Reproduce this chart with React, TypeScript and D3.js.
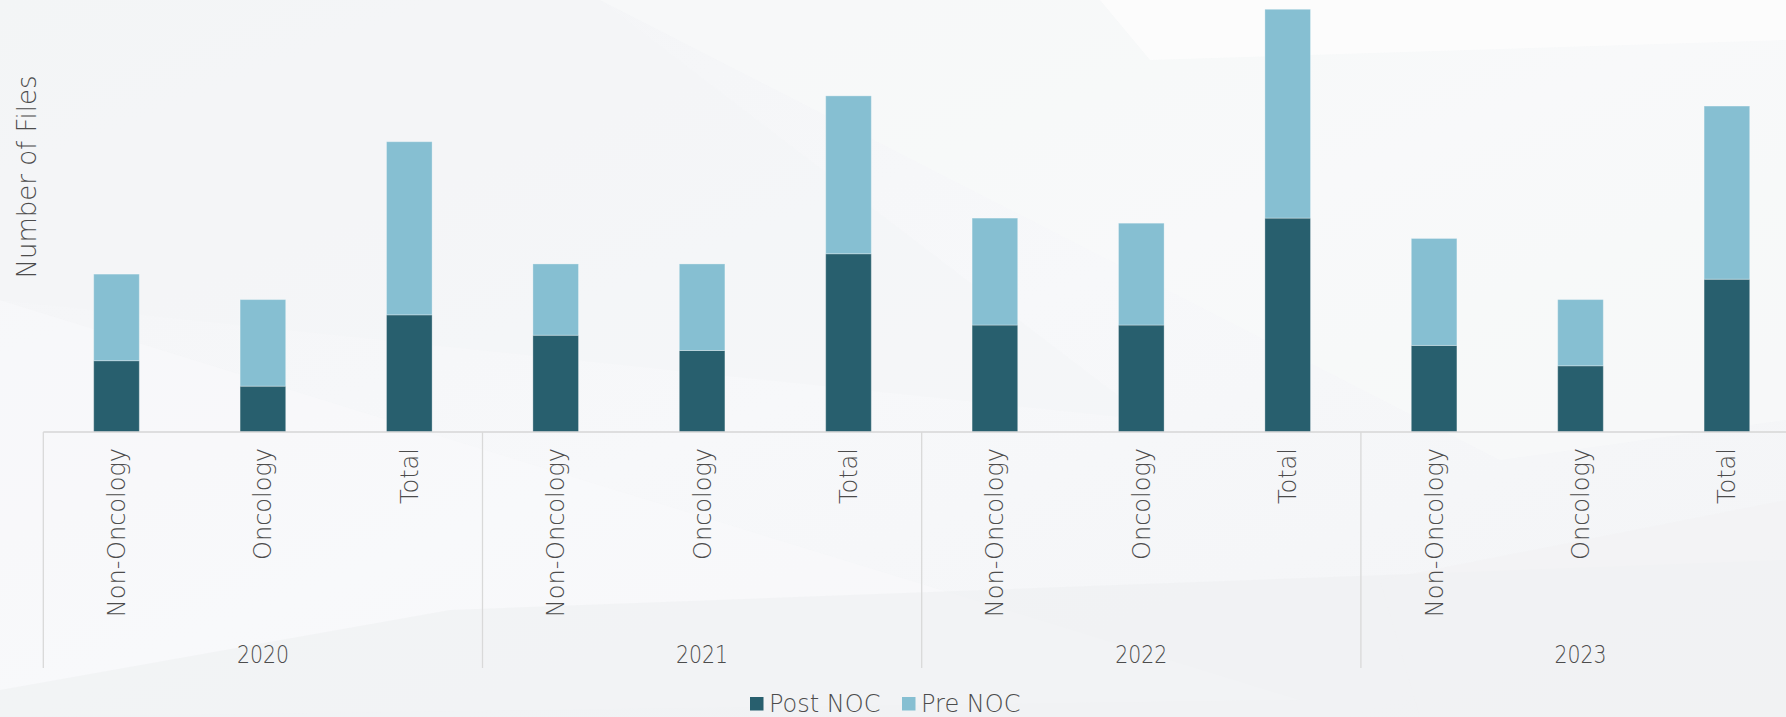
import React from "react";
import * as d3 from "d3";

const years = ["2020", "2021", "2022", "2023"];
const categories = ["Non-Oncology", "Oncology", "Total"];
const postNOC = [14, 9, 23, 19, 16, 35, 21, 21, 42, 17, 13, 30];
const preNOC = [17, 17, 34, 14, 17, 31, 21, 20, 41, 21, 13, 34];
const seriesNames = ["Post NOC", "Pre NOC"];
const seriesColors = ["#285F6E", "#86BFD2"];

const W = 1786;
const H = 717;
const FONT = "'DejaVu Sans', 'Open Sans', sans-serif";
const TEXT = "#4c4c4c";
const WEIGHT = 300;

export default function App() {
  const keys = years.flatMap((y) => categories.map((c) => `${y}|${c}`));
  const rows = keys.map((k, i) => ({ key: k, post: postNOC[i], pre: preNOC[i] }));
  const stack = d3.stack<any>().keys(["post", "pre"])(rows);

  const left = 43.3;
  const step = 146.4;
  const x = d3
    .scaleBand<string>()
    .domain(keys)
    .range([left, left + step * keys.length])
    .paddingInner(0.6885)
    .paddingOuter(0.6885 / 2);
  const xYear = d3
    .scaleBand<string>()
    .domain(years)
    .range([left, left + step * keys.length]);
  const y = d3.scaleLinear().domain([0, 85]).range([432, -0.9]);
  const base = y(0);

  return (
    <div style={{ position: "fixed", left: 0, top: 0, width: W, height: H, overflow: "hidden" }}>
      <svg width={W} height={H} style={{ display: "block" }}>
        <defs>
          <linearGradient id="bg" x1="0" y1="0" x2="1" y2="1">
            <stop offset="0" stopColor="#f3f4f6" />
            <stop offset="0.5" stopColor="#f7f8fa" />
            <stop offset="1" stopColor="#f3f4f6" />
          </linearGradient>
        </defs>
        <rect x={0} y={0} width={W} height={H} fill="url(#bg)" />
        {/* faint background facets */}
        <polygon points="600,0 1786,0 1786,420 1500,460" fill="#f8f9fa" opacity={0.7} />
        <polygon points="0,0 600,0 1150,420 0,300" fill="#f4f5f7" opacity={0.6} />
        <polygon points="0,300 420,430 1300,700 0,717" fill="#f9fafb" opacity={0.5} />
        <polygon points="0,690 450,610 1786,560 1786,717 0,717" fill="#eff0f2" opacity={0.6} />
        <polygon points="1100,0 1786,0 1786,40 1150,60" fill="#fcfcfd" opacity={0.8} />
        <polygon points="1380,580 1786,500 1786,717 1420,717" fill="#f1f2f4" opacity={0.6} />

        {/* y axis title */}
        <text
          transform={`translate(36,177) rotate(-90)`}
          textAnchor="middle"
          fontFamily={FONT}
          fontSize={26}
          fontWeight={WEIGHT}
          fill={TEXT}
        >
          Number of Files
        </text>

        {/* bars */}
        {stack.map((layer, si) => (
          <g key={si} fill={seriesColors[si]}>
            {layer.map((d: any) => (
              <rect
                key={d.data.key}
                x={x(d.data.key)}
                width={x.bandwidth()}
                y={y(d[1])}
                height={y(d[0]) - y(d[1])}
                stroke="rgba(255,255,255,0.3)"
                strokeWidth={1}
              />
            ))}
          </g>
        ))}

        {/* axis line */}
        <line x1={left} x2={W} y1={base} y2={base} stroke="#d6d6d6" strokeWidth={1.5} />
        {years.map((yr) => (
          <line
            key={yr}
            x1={xYear(yr)}
            x2={xYear(yr)}
            y1={base}
            y2={668}
            stroke="#d9d9d9"
            strokeWidth={1.3}
          />
        ))}

        {/* category labels */}
        {keys.map((k) => {
          const cx = (x(k) as number) + x.bandwidth() / 2;
          return (
            <text
              key={k}
              transform={`translate(${cx},${base + 16}) rotate(-90)`}
              textAnchor="end"
              dy="0.35em"
              fontFamily={FONT}
              fontSize={24}
              fontWeight={WEIGHT}
              fill={TEXT}
            >
              {k.split("|")[1]}
            </text>
          );
        })}

        {/* year labels */}
        {years.map((yr) => (
          <text
            key={yr}
            x={(xYear(yr) as number) + xYear.bandwidth() / 2}
            y={662.5}
            textAnchor="middle"
            fontFamily={FONT}
            fontSize={24}
            fontWeight={WEIGHT}
            fill={TEXT}
            textLength={52}
            lengthAdjust="spacingAndGlyphs"
          >
            {yr}
          </text>
        ))}

        {/* legend */}
        {seriesNames.map((name, i) => {
          const lx = i === 0 ? 750 : 902;
          return (
            <g key={name}>
              <rect x={lx} y={697} width={13.5} height={13.5} fill={seriesColors[i]} />
              <text
                x={lx + 19}
                y={711.5}
                fontFamily={FONT}
                fontSize={24}
                fontWeight={WEIGHT}
                fill={TEXT}
              >
                {name}
              </text>
            </g>
          );
        })}
      </svg>
    </div>
  );
}
